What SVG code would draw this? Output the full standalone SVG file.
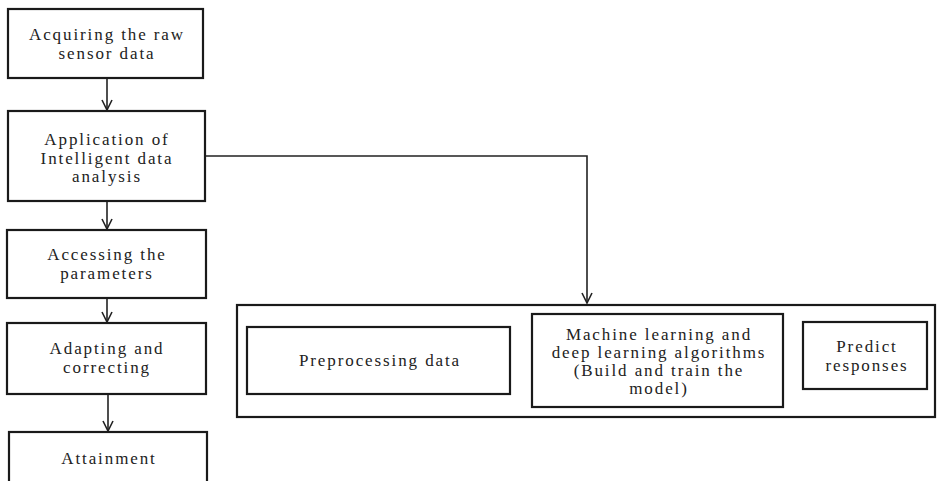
<svg xmlns="http://www.w3.org/2000/svg" width="937" height="481" viewBox="0 0 937 481">
<style>
.box{fill:#fff;stroke:#1a1a1a;stroke-width:2.2}
.t{font-family:"Liberation Serif","Times New Roman",serif;font-size:17px;letter-spacing:1.9px;fill:#222;text-anchor:middle}
.c{fill:none;stroke:#222;stroke-width:1.6}
</style>
<defs>
<marker id="ah" viewBox="0 0 12 12" refX="11" refY="6" markerWidth="12" markerHeight="12" markerUnits="userSpaceOnUse" orient="auto">
<path d="M1,1 L11,6 L1,11" fill="none" stroke="#222" stroke-width="1.6"/>
</marker>
</defs>
<rect width="937" height="481" fill="#fff"/>
<g id="connectors">
<path class="c" d="M107,78 L107,110" marker-end="url(#ah)"/>
<path class="c" d="M107,201 L107,229" marker-end="url(#ah)"/>
<path class="c" d="M107,298 L107,322" marker-end="url(#ah)"/>
<path class="c" d="M108,394 L108,431" marker-end="url(#ah)"/>
<path class="c" d="M205,156 L587,156 L587,303" marker-end="url(#ah)"/>
</g>
<g id="n1">
<rect class="box" x="8" y="9" width="195" height="69"/>
<text class="t" x="107" y="40">Acquiring the raw</text>
<text class="t" x="107" y="59">sensor data</text>
</g>
<g id="n2">
<rect class="box" x="8" y="111" width="197" height="90"/>
<text class="t" x="107" y="145">Application of</text>
<text class="t" x="107" y="164">Intelligent data</text>
<text class="t" x="107" y="182">analysis</text>
</g>
<g id="n3">
<rect class="box" x="7" y="230" width="199" height="68"/>
<text class="t" x="107" y="260">Accessing the</text>
<text class="t" x="107" y="279">parameters</text>
</g>
<g id="n4">
<rect class="box" x="7" y="323" width="199" height="71"/>
<text class="t" x="107" y="354">Adapting and</text>
<text class="t" x="107" y="373">correcting</text>
</g>
<g id="n5">
<rect class="box" x="9" y="432" width="198" height="60"/>
<text class="t" x="109" y="464">Attainment</text>
</g>
<g id="group">
<rect class="box" x="237" y="305" width="698" height="112"/>
</g>
<g id="n6">
<rect class="box" x="247" y="327" width="263" height="67"/>
<text class="t" x="380" y="366">Preprocessing data</text>
</g>
<g id="n7">
<rect class="box" x="532" y="314" width="251" height="93"/>
<text class="t" x="659" y="340">Machine learning and</text>
<text class="t" x="659" y="358">deep learning algorithms</text>
<text class="t" x="659" y="376">(Build and train the</text>
<text class="t" x="659" y="394">model)</text>
</g>
<g id="n8">
<rect class="box" x="803" y="322" width="124" height="67"/>
<text class="t" x="867" y="352">Predict</text>
<text class="t" x="867" y="371">responses</text>
</g>
</svg>
